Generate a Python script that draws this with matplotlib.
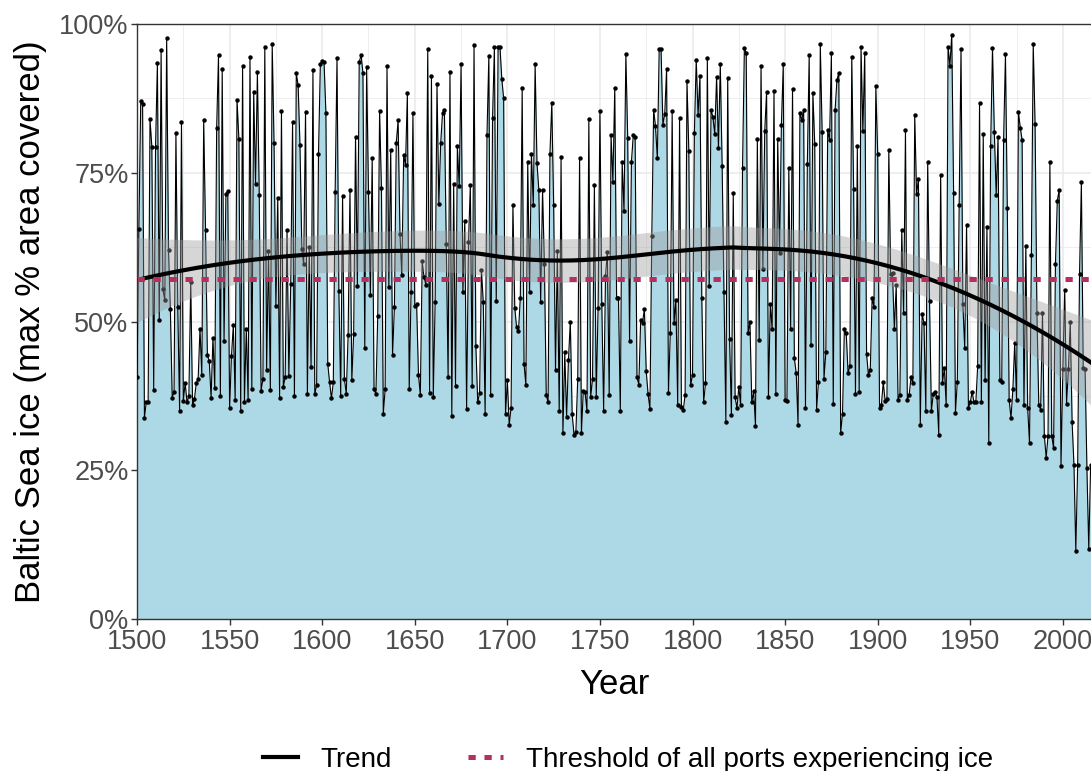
import numpy as np
import matplotlib
matplotlib.use("Agg")
import matplotlib.pyplot as plt
from matplotlib.lines import Line2D

plt.rcParams['font.family'] = ['Liberation Sans', 'DejaVu Sans']

# maximum ice extent, % of Baltic Sea area, one value per winter from 1500
ice_1500 = [40.6, 65.5, 87.1, 86.5, 33.8, 36.5, 36.4, 84.0, 79.4, 38.5, 79.4, 93.4, 50.3, 95.6, 55.4,
            53.6, 97.6, 62.1, 52.1, 37.2, 38.2, 81.7, 52.4, 35.0, 83.5, 36.7, 39.7, 36.4, 37.5, 56.6,
            35.9, 37.0, 39.7, 40.3, 48.8, 41.0, 83.9, 65.3, 44.3, 43.4, 37.2, 47.3, 38.8, 82.5, 94.8,
            37.5, 92.5, 46.8, 71.4, 71.9, 35.5]
ice_1551 = [44.2, 49.4, 36.8, 87.3, 80.7, 34.9, 92.9, 36.5, 48.7, 36.8, 94.5, 38.6, 88.6, 73.1, 91.9,
            71.3, 38.4, 40.3, 96.2, 41.9, 61.9, 38.5, 96.6, 80.0, 52.6, 70.8, 37.2, 85.4, 39.0, 40.6,
            65.3, 40.9, 56.3, 83.6, 37.5, 91.7, 89.7, 79.7, 62.2, 59.6, 85.2, 37.9, 62.5, 42.4, 92.2,
            37.8, 39.3, 78.2, 93.2, 93.7, 93.6, 85.1]
ice_1603 = [42.9, 39.8, 37.1, 39.8, 71.8, 94.3, 55.1, 37.5, 71.1, 40.3, 37.9, 47.7, 72.1, 40.1, 47.9,
            81.0, 56.0, 93.6, 94.8, 91.8, 45.5, 92.7, 71.8, 54.5, 77.5, 38.6, 37.8, 51.0, 85.3, 72.4,
            34.5, 38.6, 93.0, 55.8, 78.9, 44.3, 52.4, 80.0, 83.8, 64.7, 57.8, 77.9, 76.3, 88.4, 38.6,
            54.9, 85.0, 52.6, 52.9, 41.0, 37.7]
ice_1654 = [60.1, 57.5, 56.2, 95.8, 38.0, 91.2, 37.3, 53.2, 89.9, 69.8, 80.0, 85.1, 85.5, 63.1, 40.7,
            92.0, 34.1, 73.1, 39.2, 79.5, 72.7, 93.2, 55.0, 66.9, 35.3, 63.3, 72.9, 39.2, 96.4, 45.8,
            36.4, 38.0, 58.6, 53.2, 34.5, 81.4, 94.7, 37.7, 84.2, 96.1, 53.4, 96.1, 96.2, 90.8, 87.5,
            34.4, 40.1, 32.6, 35.5, 69.6, 52.3]
ice_1705 = [49.0, 48.4, 54.0, 89.3, 42.9, 39.3, 76.8, 54.9, 78.2, 69.6, 93.2, 76.6, 72.1, 53.2, 72.1,
            59.7, 37.7, 36.4, 78.2, 86.8, 69.5, 41.9, 61.8, 34.9, 77.6, 31.2, 44.8, 33.9, 43.6, 50.0,
            34.4, 31.0, 31.4, 40.3, 77.4, 31.2, 38.4, 38.1, 34.9, 84.1, 37.3, 40.3, 72.9, 37.3, 52.3,
            85.4, 53.0, 34.9, 57.7, 61.7, 37.7, 81.3]
ice_1757 = [73.5, 89.3, 53.9, 54.0, 34.9, 76.8, 68.6, 94.9, 80.8, 46.8, 76.8, 81.3, 81.0, 40.6, 39.4,
            50.3, 49.8, 52.1, 41.6, 37.8, 35.3, 64.3, 85.6, 82.8, 77.4, 95.8, 95.8, 83.1, 84.9, 92.5,
            38.0, 48.1, 85.3, 49.7, 53.6, 36.0, 84.2, 35.7, 35.1, 37.7, 90.5, 78.7, 39.3, 41.0, 81.7,
            94.0, 84.7, 91.2, 54.0, 36.4, 39.6]
ice_1808 = [94.2, 56.0, 85.5, 84.4, 81.5, 91.1, 79.2, 93.2, 76.1, 54.9, 33.1, 91.0, 47.1, 34.3, 71.6,
            37.3, 35.4, 39.0, 35.9, 75.8, 96.0, 95.1, 48.1, 50.0, 36.4, 38.3, 32.5, 80.7, 46.9, 93.0,
            58.9, 82.0, 88.6, 37.3, 52.9, 48.7, 88.8, 37.9, 80.7, 61.5, 83.1, 93.2, 36.8, 36.7, 75.8,
            48.8, 89.0, 43.8, 41.3, 32.6, 85.1]
ice_1859 = [83.8, 85.6, 35.5, 76.5, 94.8, 46.1, 88.4, 79.9, 35.1, 39.8, 96.6, 81.8, 40.4, 44.8, 82.1,
            80.5, 95.1, 36.2, 85.6, 90.6, 91.8, 31.2, 34.5, 48.7, 48.1, 41.4, 42.5, 94.5, 72.3, 37.9,
            79.5, 38.2, 96.2, 82.0, 95.1, 44.5, 41.0, 41.9, 54.0, 52.4, 89.5, 78.2, 35.5, 36.0, 39.8,
            36.7, 37.0, 78.8, 57.9, 58.1, 48.7]
ice_1910 = [56.2, 36.8, 37.7, 65.3, 51.4, 82.1, 36.8, 37.7, 40.6, 39.6, 84.7, 71.4, 74.0, 32.6, 51.3,
            49.7, 34.9, 76.8, 53.4, 34.9, 37.8, 38.2, 37.3, 31.0, 74.7, 39.7, 42.2, 35.9, 96.2, 93.0,
            98.2, 71.6, 34.7, 39.9, 69.5, 95.8, 52.9, 45.5, 66.2, 35.4, 36.4, 38.2, 36.4, 36.4, 42.5,
            86.7, 36.4, 81.5, 40.1, 65.9, 29.5, 79.5]
ice_1962 = [96.0, 81.8, 71.3, 81.0, 40.1, 39.9, 80.5, 94.9, 69.0, 36.8, 33.8, 38.6, 46.4, 36.8, 85.2,
            82.6, 80.5, 35.9, 62.7, 35.5, 29.5, 61.2, 96.6, 83.2, 51.4, 35.9, 35.2, 51.4, 30.8, 27.1,
            30.8, 76.8, 30.8, 28.7, 59.7, 70.3, 72.1, 25.8, 42.0, 55.3, 36.2, 42.0, 50.0, 33.1, 25.9,
            11.4, 25.9, 57.9, 73.4, 42.2, 42.0, 25.3, 11.8, 25.9]

ice = np.array(ice_1500 + ice_1551 + ice_1603 + ice_1654 + ice_1705 +
               ice_1757 + ice_1808 + ice_1859 + ice_1910 + ice_1962)
years = 1500 + np.arange(len(ice))

threshold = 57.1  # % extent at which all ports experience ice

x_ticks = [1500, 1550, 1600, 1650, 1700, 1750, 1800, 1850, 1900, 1950, 2000]
y_ticks = [0, 25, 50, 75, 100]
y_tick_labels = ['0%', '25%', '50%', '75%', '100%']
legend_labels = ['Trend', 'Threshold of all ports experiencing ice']

RED = '#B5305F'


def loess(x, y, span=0.75):
    """local quadratic fit with tricube weights, like geom_smooth(method='loess')"""
    n = len(x)
    q = int(np.floor(n * span))
    L = np.zeros((n, n))
    for i in range(n):
        d = np.abs(x - x[i])
        h = np.sort(d)[q - 1]
        w = np.clip(1 - (d / h) ** 3, 0, None) ** 3
        X = np.column_stack([np.ones(n), x - x[i], (x - x[i]) ** 2])
        A = X.T @ (w[:, None] * X)
        L[i] = np.linalg.solve(A, (X * w[:, None]).T)[0]
    fit = L @ y
    IL = np.eye(n) - L
    delta1 = np.trace(IL.T @ IL)
    sigma = np.sqrt(np.sum((y - fit) ** 2) / delta1)
    se = sigma * np.sqrt(np.sum(L ** 2, axis=1))
    return fit, se


xs = years.astype(float)
trend, se = loess((xs - xs.mean()) / 100, ice)

fig = plt.figure(figsize=(10.91, 7.71), dpi=100)
ax = fig.add_axes([0.1256, 0.1971, 0.8744, 0.7718])

ax.fill_between(years, 0, ice, color='#ADD8E6', lw=0, zorder=2)
ax.plot(years, ice, color='black', lw=0.8, zorder=3)
ax.plot(years, ice, 'o', color='black', ms=3.2, mew=0, zorder=3)
ax.fill_between(years, trend - 1.965 * se, trend + 1.965 * se,
                color='#999999', alpha=0.4, lw=0, zorder=4)
ax.plot(years, trend, color='black', lw=3, zorder=5)
ax.axhline(threshold, color=RED, lw=3.6, dashes=(1.45, 1.75), zorder=6)

ax.set_xlim(1500, 2015.2)
ax.set_ylim(0, 100)
ax.set_xticks(x_ticks)
ax.set_yticks(y_ticks)
ax.set_yticklabels(y_tick_labels)
ax.set_xticks(np.arange(1525, 2015, 50), minor=True)
ax.set_yticks([12.5, 37.5, 62.5, 87.5], minor=True)
ax.grid(which='major', color='#EBEBEB', lw=1.2, zorder=0)
ax.grid(which='minor', color='#EBEBEB', lw=0.6, zorder=0)
ax.set_axisbelow(True)
ax.tick_params(which='major', direction='out', length=4, width=1, color='#333333',
               labelsize=19.5, labelcolor='#4D4D4D', pad=2)
ax.tick_params(axis='x', which='major', pad=3.5)
ax.tick_params(which='minor', length=0)
for s in ax.spines.values():
    s.set_color('#333333')
    s.set_linewidth(1)
ax.spines['right'].set_visible(False)

ax.set_xlabel('Year', fontsize=25, labelpad=9)
ax.set_ylabel('Baltic Sea ice (max % area covered)', fontsize=25, labelpad=9)

handles = [Line2D([], [], color='black', lw=3),
           Line2D([], [], color=RED, lw=3.6, dashes=(1.45, 1.75))]
fig.legend(handles, legend_labels,
           loc='center left', bbox_to_anchor=(0.241, 0.014), ncol=2, frameon=False,
           fontsize=20, handlelength=1.27, handletextpad=0.8, columnspacing=2.75,
           borderaxespad=0, borderpad=0)

fig.savefig('out.png', dpi=100)
